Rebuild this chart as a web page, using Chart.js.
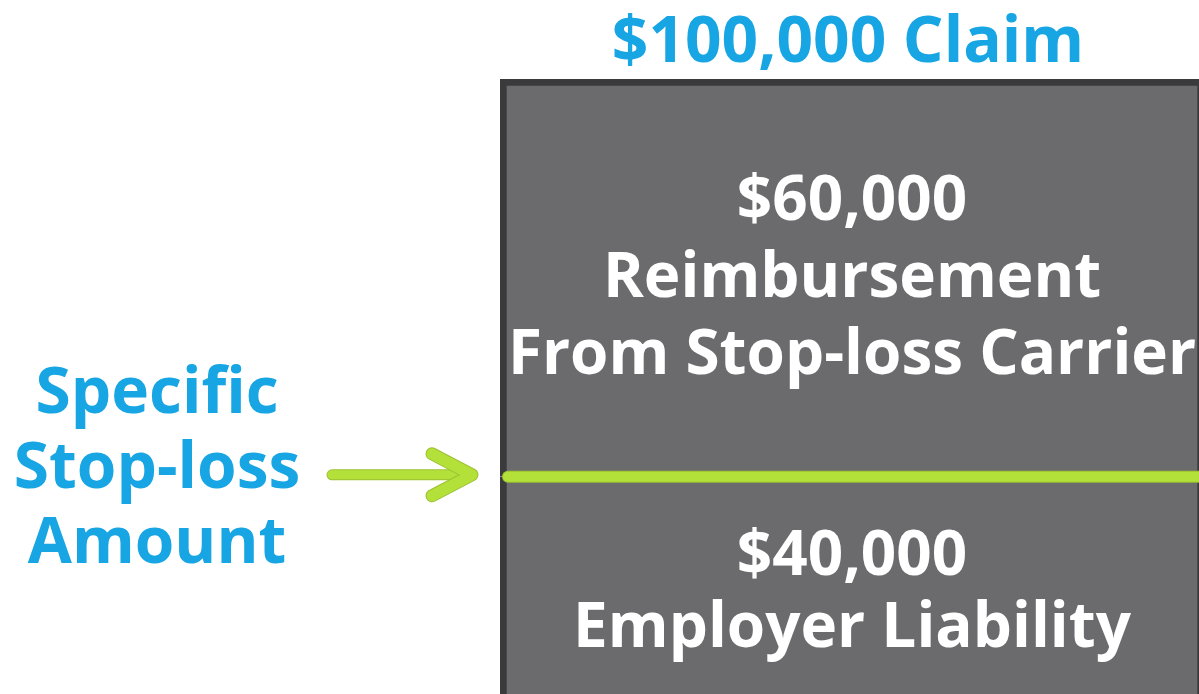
<!DOCTYPE html>
<html>
<head>
<meta charset="utf-8">
<script src="https://cdn.jsdelivr.net/npm/chart.js@4/dist/chart.umd.min.js"></script>
<style>
  html, body { margin: 0; padding: 0; background: #ffffff; overflow: hidden; }
  canvas { display: block; }
</style>
</head>
<body>
<canvas id="claim" width="1250" height="760"></canvas>
<script>
// values for the claim split
var claimLabel = ["$100,000 Claim"];
var employerLiability = [40000];
var carrierReimbursement = [60000];

// text inside and beside the bar
var employerText = ["$40,000", "Employer Liability"];
var carrierText = ["$60,000", "Reimbursement", "From Stop-loss Carrier"];
var stopLossText = ["Specific", "Stop-loss", "Amount"];

var blue = "#17a5e4";
var green = "#b4e03a";
var greenEdge = "#9cc232";
var barFill = "#6b6b6e";
var barEdge = "#3a3a3c";
var font = "bold 64px 'Open Sans', sans-serif";
var barFont = "bold 62px 'Open Sans', sans-serif";

// stroke a green line with a slightly darker rim
function greenStroke(ctx, width) {
  ctx.strokeStyle = greenEdge;
  ctx.lineWidth = width + 2;
  ctx.stroke();
  ctx.strokeStyle = green;
  ctx.lineWidth = width;
  ctx.stroke();
}

// draws the title, the divider, the segment texts and the arrow
var claimDecor = {
  id: "claimDecor",
  afterDatasetsDraw: function (chart) {
    var ctx = chart.ctx;
    var low = chart.getDatasetMeta(0).data[0];
    var high = chart.getDatasetMeta(1).data[0];
    var left = low.x - low.width / 2;
    var right = low.x + low.width / 2;
    var split = low.y;
    var cx = low.x;

    ctx.save();
    ctx.font = font;
    ctx.textAlign = "center";
    ctx.textBaseline = "alphabetic";

    // title above the bar
    ctx.fillStyle = blue;
    ctx.fillText(claimLabel[0], cx - 4, high.y - 17);

    // stop-loss divider
    ctx.lineCap = "round";
    ctx.beginPath();
    ctx.moveTo(left + 8, split);
    ctx.lineTo(right + 20, split);
    greenStroke(ctx, 10);

    // label and arrow on the left
    stopLossText.forEach(function (t, i) {
      ctx.fillText(t, 157, split + 11 + (i - 1) * 75);
    });

    ctx.lineJoin = "round";
    ctx.beginPath();
    ctx.moveTo(left - 168, split - 2);
    ctx.lineTo(left - 34, split - 2);
    greenStroke(ctx, 9);
    ctx.beginPath();
    ctx.moveTo(left - 68, split - 23);
    ctx.lineTo(left - 28, split - 2);
    ctx.lineTo(left - 68, split + 19);
    greenStroke(ctx, 11);

    // carrier text, centred in the top segment
    ctx.font = barFont;
    ctx.fillStyle = "#ffffff";
    var mid = (high.y + high.base) / 2;
    carrierText.forEach(function (t, i) {
      ctx.fillText(t, cx, mid + 19 + (i - 1) * 77);
    });

    // employer text, below the divider
    employerText.forEach(function (t, i) {
      ctx.fillText(t, cx, split + 98 + i * 72);
    });

    ctx.restore();
  }
};

var ctx = document.getElementById("claim").getContext("2d");

new Chart(ctx, {
  type: "bar",
  data: {
    labels: claimLabel,
    datasets: [
      {
        label: "Employer Liability",
        data: employerLiability,
        backgroundColor: barFill,
        borderColor: barEdge,
        borderWidth: { left: 7, right: 7, top: 0, bottom: 7 },
        borderSkipped: false,
        barPercentage: 1,
        categoryPercentage: 1
      },
      {
        label: "Reimbursement From Stop-loss Carrier",
        data: carrierReimbursement,
        backgroundColor: barFill,
        borderColor: barEdge,
        borderWidth: { left: 7, right: 7, top: 7, bottom: 0 },
        borderSkipped: false,
        barPercentage: 1,
        categoryPercentage: 1
      }
    ]
  },
  options: {
    responsive: false,
    animation: false,
    layout: {
      padding: { left: 500, right: 46, top: 79, bottom: 18 }
    },
    plugins: {
      legend: { display: false },
      tooltip: { enabled: false }
    },
    scales: {
      x: { stacked: true, display: false },
      y: { stacked: true, display: false, min: 0, max: 100000 }
    }
  },
  plugins: [claimDecor]
});
</script>
</body>
</html>
